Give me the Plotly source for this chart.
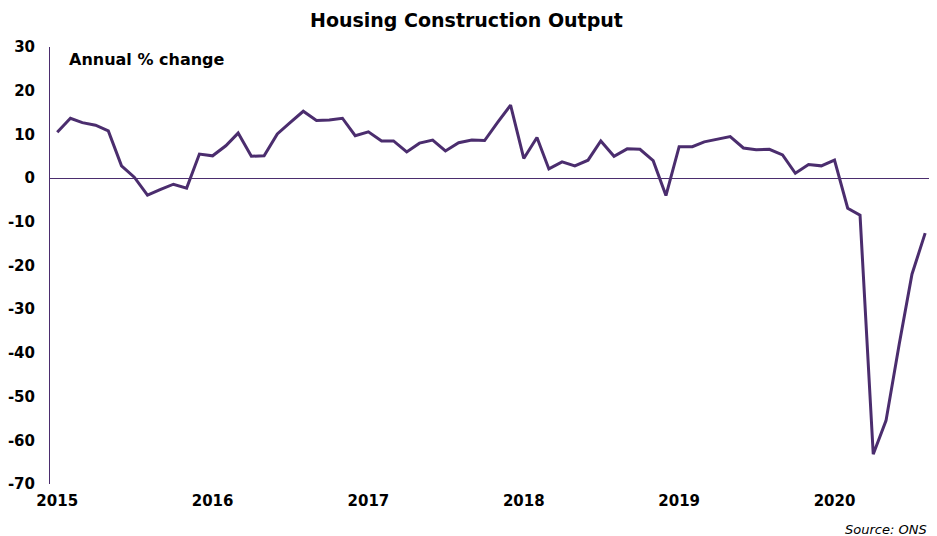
import pandas as pd
import plotly.graph_objects as go

# Housing construction output, annual % change, monthly Jan 2015 - Aug 2020
months = pd.date_range("2015-01-01", periods=68, freq="MS")
values = [
    10.5, 13.7, 12.7, 12.1, 10.8, 2.8, 0.2, -3.9, -2.6, -1.4, -2.3, 5.5,   # 2015
    5.1, 7.4, 10.3, 5.0, 5.1, 10.1, 12.7, 15.3, 13.2, 13.3, 13.7, 9.7,     # 2016
    10.6, 8.5, 8.5, 6.0, 8.0, 8.7, 6.2, 8.1, 8.7, 8.6, 12.8, 16.7,         # 2017
    4.5, 9.3, 2.1, 3.7, 2.8, 4.1, 8.5, 5.0, 6.7, 6.6, 4.0, -4.0,           # 2018
    7.2, 7.2, 8.3, 8.9, 9.5, 6.9, 6.5, 6.6, 5.3, 1.1, 3.1, 2.8,            # 2019
    4.1, -6.9, -8.5, -63.2, -55.5, -38.0, -22.0, -12.6,                     # 2020
]
year_ticks = ["2015-01-01", "2016-01-01", "2017-01-01", "2018-01-01", "2019-01-01", "2020-01-01"]
year_labels = ["2015", "2016", "2017", "2018", "2019", "2020"]
y_ticks = [30, 20, 10, 0, -10, -20, -30, -40, -50, -60, -70]
y_labels = ["30", "20", "10", "0", "-10", "-20", "-30", "-40", "-50", "-60", "-70"]

PURPLE = "#4b2d6e"
FONT = "DejaVu Sans, sans-serif"

fig = go.Figure(go.Scatter(x=months, y=values, mode="lines",
                           line={"color": PURPLE, "width": 3}, showlegend=False))

# page body adds an 8px margin, and the visible width ends ~8px early
fig.update_layout(
    width=929, height=528,
    margin={"l": 42, "r": 8, "t": 39, "b": 52, "autoexpand": False},
    plot_bgcolor="white", paper_bgcolor="white",
    title={"text": "Housing Construction Output", "x": 0.4935, "xanchor": "center",
           "y": 0.977, "yanchor": "middle",
           "font": {"family": FONT, "size": 19, "color": "black", "weight": "bold"}},
    xaxis={"type": "date", "range": ["2014-12-15", "2020-08-10"], "automargin": False,
           "tickvals": year_ticks, "ticktext": year_labels,
           "showgrid": False, "zeroline": False, "showline": False,
           "ticks": "", "ticklabelstandoff": 6,
           "tickfont": {"family": FONT, "size": 15, "color": "black", "weight": "bold"}},
    yaxis={"range": [-70, 30], "automargin": False,
           "tickvals": y_ticks, "ticktext": y_labels, "showgrid": False,
           "zeroline": True, "zerolinecolor": PURPLE, "zerolinewidth": 1,
           "showline": True, "linecolor": PURPLE, "linewidth": 1,
           "ticks": "", "ticklabelstandoff": 11,
           "tickfont": {"family": FONT, "size": 15, "color": "black", "weight": "bold"}},
    annotations=[
        {"text": "Annual % change", "xref": "paper", "yref": "paper",
         "x": 0.0195, "y": 0.9725, "xanchor": "left", "yanchor": "middle", "showarrow": False,
         "font": {"family": FONT, "size": 16, "color": "black", "weight": "bold"}},
        {"text": "<i>Source: ONS</i>", "xref": "paper", "yref": "paper",
         "x": 1.0, "y": -0.105, "xanchor": "right", "yanchor": "middle", "showarrow": False,
         "font": {"family": FONT, "size": 13, "color": "black"}},
    ],
)

fig.write_html("out.html")
